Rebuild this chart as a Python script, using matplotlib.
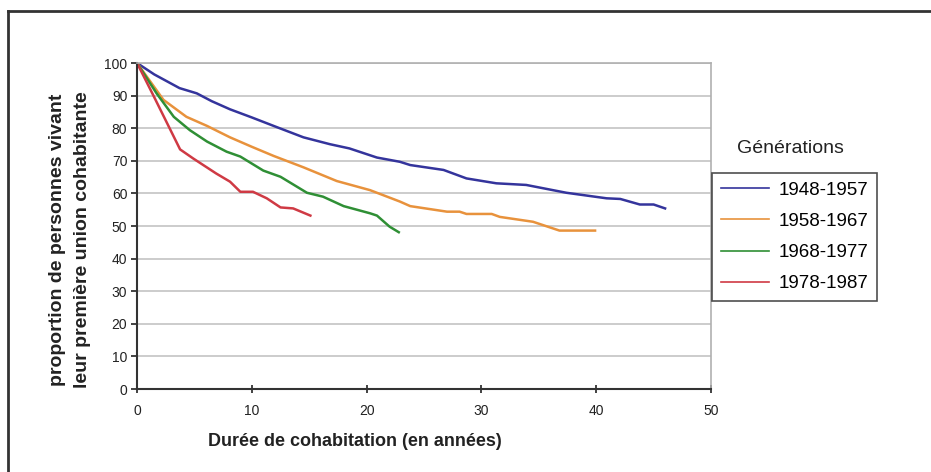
import matplotlib.pyplot as plt
from matplotlib.lines import Line2D

plt.rcParams['font.family'] = ['Liberation Sans', 'DejaVu Sans']

# Data (years of cohabitation, % still in first union)
years_4857 = [0, 1.5, 3.7, 5.2, 6.5, 8.1, 10.0, 12.2, 14.5, 16.8, 18.5, 20.9,
              22.9, 23.8, 26.7, 28.7, 31.3, 33.9, 37.4, 40.9, 42.1, 43.8, 45.0, 46.0]
vals_4857 = [100, 96.5, 92.3, 90.7, 88.3, 85.8, 83.3, 80.3, 77.2, 75.1, 73.8, 71.0,
             69.7, 68.7, 67.2, 64.6, 63.1, 62.6, 60.2, 58.5, 58.3, 56.6, 56.6, 55.4]

years_5867 = [0, 2.3, 4.3, 6.1, 8.1, 10.0, 11.9, 14.5, 17.4, 20.3, 22.9, 23.8,
              27.0, 28.1, 28.7, 30.9, 31.6, 34.5, 36.8, 39.9]
vals_5867 = [100, 88.7, 83.5, 80.7, 77.2, 74.3, 71.5, 68.0, 63.8, 61.0, 57.5, 56.1,
             54.4, 54.4, 53.7, 53.7, 52.8, 51.3, 48.6, 48.6]

years_6877 = [0, 1.7, 3.2, 4.6, 6.1, 7.8, 9.0, 11.0, 12.5, 14.8, 16.2, 18.0,
              20.3, 20.9, 22.0, 22.8]
vals_6877 = [100, 90.7, 83.5, 79.4, 75.9, 72.8, 71.3, 67.0, 65.1, 60.2, 59.0, 56.1,
             53.9, 53.2, 49.8, 48.1]

years_7887 = [0, 1.4, 3.75, 4.9, 6.9, 8.1, 9.0, 10.1, 11.3, 12.5, 13.6, 15.1]
vals_7887 = [100, 90.2, 73.5, 70.7, 66.1, 63.6, 60.5, 60.5, 58.5, 55.7, 55.4, 53.2]

labels = ['1948-1957', '1958-1967', '1968-1977', '1978-1987']
colors = ['#34349c', '#e8923c', '#2f8f35', '#cf3a44']

x_ticks = [0, 10, 20, 30, 40, 50]
y_ticks = [0, 10, 20, 30, 40, 50, 60, 70, 80, 90, 100]

fig = plt.figure(figsize=(9.31, 4.72), dpi=100)
ax = fig.add_axes([0.1472, 0.1758, 0.6165, 0.6907])

series = [(years_4857, vals_4857), (years_5867, vals_5867),
          (years_6877, vals_6877), (years_7887, vals_7887)]
for (xs, ys), lab, col in zip(series, labels, colors):
    ax.plot(xs, ys, color=col, lw=1.8, label=lab, solid_joinstyle='round')

ax.set_xlim(0, 50)
ax.set_ylim(0, 100)
ax.set_xticks(x_ticks)
ax.set_yticks(y_ticks)
ax.yaxis.grid(True, color='#c4c4c4', lw=1.2)
ax.set_axisbelow(True)
for s in ['top', 'right']:
    ax.spines[s].set_color('#b0b0b0')
    ax.spines[s].set_linewidth(1.2)
for s in ['left', 'bottom']:
    ax.spines[s].set_color('#333333')
    ax.spines[s].set_linewidth(1.5)
ax.tick_params(axis='y', direction='out', length=4, width=1.2, labelsize=10,
               colors='#222222', pad=3)
ax.tick_params(axis='x', direction='inout', length=6, width=1.2, labelsize=10,
               colors='#222222', pad=8)

# y label in two lines, x label as placed in the original
fig.text(0.062, 0.492, 'proportion de personnes vivant', rotation=90,
         ha='center', va='center', fontsize=14, fontweight='bold', color='#222222')
fig.text(0.089, 0.492, 'leur première union cohabitante', rotation=90,
         ha='center', va='center', fontsize=14, fontweight='bold', color='#222222')
fig.text(0.381, 0.064, 'Durée de cohabitation (en années)', ha='center',
         va='center', fontsize=13, fontweight='bold', color='#222222')

# legend
fig.text(0.849, 0.686, 'Générations', ha='center', va='center',
         fontsize=14, color='#222222')
handles = [Line2D([], [], color=c, lw=1.2) for c in colors]
leg = fig.legend(handles, labels, loc='upper left',
                 bbox_to_anchor=(0.765, 0.633), fontsize=13.5, frameon=True,
                 fancybox=False, edgecolor='#222222', handlelength=2.6,
                 handletextpad=0.5, labelspacing=0.75, borderpad=0.45,
                 borderaxespad=0)
leg.get_frame().set_linewidth(1.2)

# outer frame (top and left edges visible)
fig.add_artist(Line2D([8 / 931, 1], [1 - 11 / 472, 1 - 11 / 472],
                      transform=fig.transFigure, color='#333333', lw=2))
fig.add_artist(Line2D([8 / 931, 8 / 931], [0, 1 - 11 / 472],
                      transform=fig.transFigure, color='#333333', lw=2))

fig.savefig('out.png', dpi=100)
